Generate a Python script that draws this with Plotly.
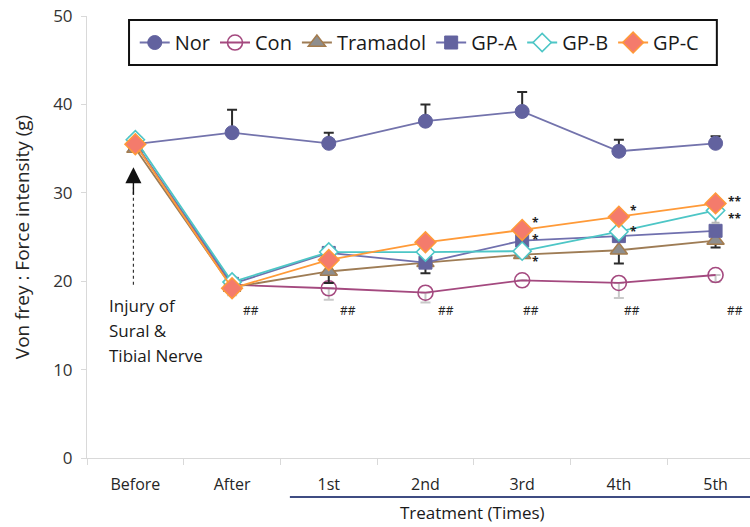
import plotly.graph_objects as go

# ---- data -------------------------------------------------------------
time_labels = ["Before", "After", "1st", "2nd", "3rd", "4th", "5th"]

nor      = [35.5, 36.8, 35.6, 38.1, 39.2, 34.7, 35.6]
con      = [35.5, 19.6, 19.2, 18.7, 20.1, 19.8, 20.7]
tramadol = [35.0, 19.3, 21.1, 22.1, 23.0, 23.5, 24.6]
gp_a     = [35.6, 19.7, 23.2, 22.1, 24.6, 25.1, 25.7]
gp_b     = [36.0, 19.9, 23.3, 23.3, 23.4, 25.6, 28.0]
gp_c     = [35.5, 19.2, 22.4, 24.4, 25.8, 27.3, 28.8]

nor_err_up      = [None, 2.6, 1.2, 1.9, 2.2, 1.3, 0.8]
con_err_down    = [None, 1.2, 1.3, 1.1, None, 1.7, 0.8]
tram_err_down   = [None, None, 1.3, 1.2, None, 1.5, 0.8]
gp_b_err_down   = [None, None, None, None, None, None, 1.4]
gp_c_err_up     = [None, None, None, None, 0.6, 0.5, 0.6]

# significance marks
hash_idx = [1, 2, 3, 4, 5, 6]
hash_off = [0.20, 0.20, 0.21, 0.09, 0.14, 0.20]
hash_y = 16.7

star_x    = [4.14, 4.14, 4.14, 5.15, 5.15, 6.20, 6.20]
star_y    = [27.1, 25.2, 22.7, 28.4, 26.1, 29.5, 27.6]
star_text = ["*", "*", "*", "*", "*", "**", "**"]

injury_lines = ["Injury of", "Sural &", "Tibial Nerve"]

x = list(range(len(time_labels)))

FONT = "Open Sans, Liberation Sans, sans-serif"


def zeros_like(vals):
    return [0 if v is not None else None for v in vals]


fig = go.Figure()

# Nor
fig.add_trace(go.Scatter(
    x=x, y=nor, name="Nor", mode="lines+markers",
    line=dict(color="#7373AC", width=1.8),
    marker=dict(symbol="circle", size=14, color="#62629F",
                line=dict(color="#62629F", width=1)),
    error_y=dict(type="data", symmetric=False, array=nor_err_up,
                 arrayminus=zeros_like(nor_err_up),
                 color="#2b2b2b", thickness=2, width=5),
))

# Con
fig.add_trace(go.Scatter(
    x=x, y=con, name="Con", mode="lines+markers",
    line=dict(color="#A4497F", width=1.8),
    marker=dict(symbol="circle-open", size=15, color="#A4497F",
                line=dict(color="#A4497F", width=1.6)),
    error_y=dict(type="data", symmetric=False, arrayminus=con_err_down,
                 array=zeros_like(con_err_down),
                 color="#c9c9c9", thickness=2, width=5),
))

# Tramadol
fig.add_trace(go.Scatter(
    x=x, y=tramadol, name="Tramadol", mode="lines+markers",
    line=dict(color="#9E7C55", width=1.8),
    marker=dict(symbol="triangle-up", size=15, color="#8E8E8E",
                line=dict(color="#A47C4E", width=1.5)),
    error_y=dict(type="data", symmetric=False, arrayminus=tram_err_down,
                 array=zeros_like(tram_err_down),
                 color="#2b2b2b", thickness=2, width=5),
))

# GP-A
fig.add_trace(go.Scatter(
    x=x, y=gp_a, name="GP-A", mode="lines+markers",
    line=dict(color="#7070AE", width=1.8),
    marker=dict(symbol="square", size=13, color="#63639F",
                line=dict(color="#63639F", width=1)),
))

# GP-B
fig.add_trace(go.Scatter(
    x=x, y=gp_b, name="GP-B", mode="lines+markers",
    line=dict(color="#4DC6C6", width=1.8),
    marker=dict(symbol="diamond", size=14, color="white",
                line=dict(color="#4DC6C6", width=1.6)),
    error_y=dict(type="data", symmetric=False, arrayminus=gp_b_err_down,
                 array=zeros_like(gp_b_err_down),
                 color="#b5b5b5", thickness=2, width=4),
))

# GP-C
fig.add_trace(go.Scatter(
    x=x, y=gp_c, name="GP-C", mode="lines+markers",
    line=dict(color="#FF9A38", width=1.8),
    marker=dict(symbol="diamond", size=16, color="#F47B6C",
                line=dict(color="#FF9A38", width=1.5)),
    error_y=dict(type="data", symmetric=False, array=gp_c_err_up,
                 arrayminus=zeros_like(gp_c_err_up),
                 color="#2b2b2b", thickness=2, width=4),
))

annotations = []

# "##" marks under each post-injury time point
for i, off in zip(hash_idx, hash_off):
    annotations.append(dict(
        x=i + off, y=hash_y, xref="x", yref="y", text="##", showarrow=False,
        font=dict(family=FONT, size=12, color="#222222"),
    ))

# asterisks beside treated groups
for sx, sy, st in zip(star_x, star_y, star_text):
    annotations.append(dict(
        x=sx, y=sy, xref="x", yref="y", text=st, showarrow=False, yshift=-4,
        font=dict(family=FONT, size=12, weight="bold", color="#222222"),
    ))

# injury note beneath the "Before" arrow
for k, line in enumerate(injury_lines):
    annotations.append(dict(
        x=-0.29, y=17.2 - k * 2.83, xref="x", yref="y", text=line,
        showarrow=False, xanchor="left",
        font=dict(family=FONT, size=17, color="#1a1a1a"),
    ))

# arrow head pointing at the pre-injury measurement
annotations.append(dict(
    x=-0.02, y=32.9, ax=-0.02, ay=29.6, xref="x", yref="y",
    axref="x", ayref="y", text="", showarrow=True,
    arrowhead=2, arrowsize=2.3, arrowwidth=1.4, arrowcolor="#111111",
))

# x-axis title
annotations.append(dict(
    x=0.582, y=-0.124, xref="paper", yref="paper", text="Treatment (Times)",
    showarrow=False, yanchor="middle",
    font=dict(family=FONT, size=17, color="#1a1a1a"),
))

shapes = [
    # dotted shaft of the injury arrow
    dict(type="line", xref="x", yref="y", x0=-0.02, x1=-0.02, y0=19.6, y1=30.6,
         line=dict(color="#333333", width=1.2, dash="dot")),
    # bracket line over the treatment period
    dict(type="line", xref="paper", yref="paper", x0=0.306, x1=1.0,
         y0=-0.088, y1=-0.088, line=dict(color="#3F4C82", width=2)),
    # legend frame
    dict(type="rect", xref="paper", yref="paper", x0=0.0634, x1=0.950,
         y0=0.889, y1=0.991, line=dict(color="#111111", width=2),
         fillcolor="rgba(0,0,0,0)"),
]

fig.update_layout(
    width=750, height=527,
    margin=dict(l=87, r=0, t=16, b=69),
    paper_bgcolor="white", plot_bgcolor="white",
    font=dict(family=FONT, color="#333333"),
    showlegend=True,
    legend=dict(
        orientation="h", x=0.072, xanchor="left", y=0.940, yanchor="middle",
        bgcolor="rgba(0,0,0,0)", borderwidth=0,
        font=dict(family=FONT, size=20, color="#1a1a1a"),
        itemwidth=30, traceorder="normal",
    ),
    annotations=annotations,
    shapes=shapes,
    xaxis=dict(
        type="linear", range=[-0.5, 6.356],
        tickmode="array", tickvals=x, ticktext=time_labels,
        ticks="", showline=True, linecolor="#d9d9d9", linewidth=1,
        showgrid=False, zeroline=False,
        tickfont=dict(family=FONT, size=16, color="#262626"),
        ticklabelstandoff=12,
    ),
    xaxis2=dict(
        overlaying="x", anchor="y", side="bottom", matches="x",
        tickmode="array", tickvals=[i - 0.5 for i in x],
        showticklabels=False, ticks="outside", ticklen=6,
        tickcolor="#d9d9d9", showgrid=False, zeroline=False, showline=False,
    ),
    yaxis=dict(
        range=[0, 50], tickmode="linear", tick0=0, dtick=10,
        ticks="outside", ticklen=5, tickcolor="#d9d9d9",
        showline=True, linecolor="#d9d9d9", linewidth=1,
        showgrid=False, zeroline=False, ticklabelstandoff=5,
        tickfont=dict(family=FONT, size=17, color="#333333"),
        title=dict(text="Von frey : Force intensity (g)", standoff=18,
                   font=dict(family=FONT, size=19, color="#262626")),
    ),
)

# an invisible trace so the boundary tick axis is drawn
fig.add_trace(go.Scatter(x=[0], y=[None], xaxis="x2", showlegend=False,
                         hoverinfo="skip"))

fig.write_html("out.html")
